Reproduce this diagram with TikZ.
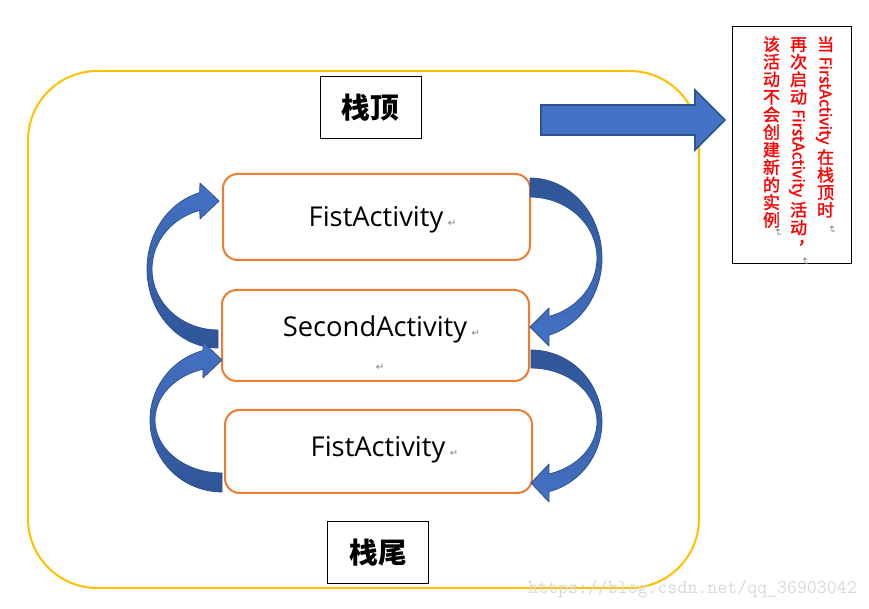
\documentclass[tikz,border=0pt]{standalone}
\usepackage{fontspec}
\setmainfont{Open Sans}
\newfontfamily\cjk{Noto Sans CJK SC}
\newfontfamily\cjkmed[FakeBold=1.4]{Noto Sans CJK SC}
\newfontfamily\symf{DejaVu Sans}
\definecolor{frameY}{HTML}{FFC000}
\definecolor{boxO}{HTML}{ED7D31}
\definecolor{arrB}{HTML}{4472C4}
\definecolor{arrD}{HTML}{2F5597}
\definecolor{arrE}{HTML}{2F528F}
\newcommand\up[1]{\raisebox{-0.15em}{\rotatebox{90}{\rule[-0.13em]{0pt}{1.03em}#1}}}
\newcommand\lat[1]{{\fontsize{12}{13}\selectfont #1}}
\newcommand\retm{{\symf\fontsize{7.5}{7.5}\selectfont\color{gray}↵}}
\begin{document}
\begin{tikzpicture}[x=0.75pt,y=-0.75pt,
 stackframe/.style={draw=frameY, line width=1.5pt, rounded corners=52pt, minimum width=503.25pt, minimum height=387.75pt, inner sep=0},
 actbox/.style={draw=boxO, line width=1.5pt, fill=white, rounded corners=11pt, minimum width=230.25pt, inner sep=0},
 acttext/.style={inner sep=0, anchor=base, font=\fontsize{20.5}{24}\selectfont},
 endbox/.style={draw=black, line width=0.75pt, fill=white, minimum width=75.75pt, minimum height=46.5pt, font=\cjk\bfseries\fontsize{21.5}{24}\selectfont},
 bigarrow/.style={fill=arrB, draw=arrE, line width=1.2pt, line join=miter},
 uparrow/.style={top color=arrB, bottom color=arrD, draw=arrE, line width=0.6pt, line join=round},
 downarrow/.style={top color=arrD, bottom color=arrB, draw=arrE, line width=0.6pt, line join=round},
 notebox/.style={draw=black, line width=0.75pt, minimum width=89.25pt, minimum height=177.75pt, inner sep=0},
 vcol/.style={rotate=-90, anchor=west, inner sep=0, text=red, font=\cjkmed\fontsize{12.8}{13}\selectfont},
 retmark/.style={inner sep=0, text=gray, font=\symf\fontsize{7.5}{7.5}\selectfont},
 watermark/.style={inner sep=0, text=black!15, font=\ttfamily\fontsize{14.5}{15}\selectfont}
]
\useasboundingbox (0,0) rectangle (869,609);
\fill[white] (0,0) rectangle (869,609);

% stack frame
\node[stackframe] (stack) at (363.5,329.5) {};

% big arrow to the note
\draw[bigarrow] (541,105) -- (695,105) -- (695,90) -- (725,120) -- (695,150) -- (695,135) -- (541,135) -- cycle;

% top / bottom labels
\node[endbox] (top) at (370.5,108) {栈顶};
\node[endbox] (bottom) at (378,553) {栈尾};

% activity boxes
\node[actbox, minimum height=64.5pt] (act1) at (376.5,217) {};
\node[actbox, minimum height=68.25pt] (act2) at (375.5,335.5) {};
\node[actbox, minimum height=62.25pt] (act3) at (378.5,451.5) {};
\node[acttext] (act1t) at (376,227) {FistActivity\rlap{\,\retm}};
\node[acttext] (act2t) at (375,337) {SecondActivity\rlap{\,\retm}};
\node[retmark] (act2r) at (380,367) {↵};
\node[acttext] (act3t) at (378,457) {FistActivity\rlap{\,\retm}};

% curved arrows, left side (upwards)
\draw[uparrow] (218,348)
  -- plot[domain=90:255, samples=40, variable=\t] ({218+71*cos(\t)},{269+79*sin(\t)})
  -- (200,183) -- (219,201) -- (200,219)
  -- plot[domain=254:90, samples=40, variable=\t] ({218+66*cos(\t)},{269+61*sin(\t)})
  -- cycle;
\draw[uparrow] (222,492)
  -- plot[domain=90:254.7, samples=40, variable=\t] ({222+72*cos(\t)},{420+72*sin(\t)})
  -- (203,342) -- (222,360) -- (203,378)
  -- plot[domain=253.5:90, samples=40, variable=\t] ({222+67*cos(\t)},{420+53*sin(\t)})
  -- cycle;
% curved arrows, right side (downwards)
\draw[downarrow] (530,178)
  -- plot[domain=270:434.7, samples=40, variable=\t] ({530+72*cos(\t)},{258+80*sin(\t)})
  -- (549,346) -- (530,327) -- (549,308)
  -- plot[domain=433.5:270, samples=40, variable=\t] ({530+67*cos(\t)},{258+61*sin(\t)})
  -- cycle;
\draw[downarrow] (531,350)
  -- plot[domain=270:435.3, samples=40, variable=\t] ({531+71*cos(\t)},{422+72*sin(\t)})
  -- (549,502) -- (531,483) -- (549,464)
  -- plot[domain=434.2:270, samples=40, variable=\t] ({531+66*cos(\t)},{422+54*sin(\t)})
  -- cycle;

% note box with vertical text
\node[notebox] (note) at (791.5,145.5) {};
\node[vcol] (col1) at (825,35) {\up{当} \lat{FirstActivity} \up{在}\up{栈}\up{顶}\up{时}};
\node[vcol] (col2) at (798,35) {\up{再}\up{次}\up{启}\up{动} \lat{FirstActivity} \up{活}\up{动}\up{\raisebox{0.45em}{\makebox[1em][l]{\hspace{0.45em}，}}}};
\node[vcol] (col3) at (771.5,35) {\up{该}\up{活}\up{动}\up{不}\up{会}\up{创}\up{建}\up{新}\up{的}\up{实}\up{例}};
\node[retmark, rotate=-90] (r1) at (832,230) {↵};
\node[retmark, rotate=-90] (r2) at (805,262) {↵};
\node[retmark, rotate=-90] (r3) at (778,233) {↵};

% watermark
\node[watermark] (wm) at (692.5,589) {https://blog.csdn.net/qq\_36903042};
\end{tikzpicture}
\end{document}
